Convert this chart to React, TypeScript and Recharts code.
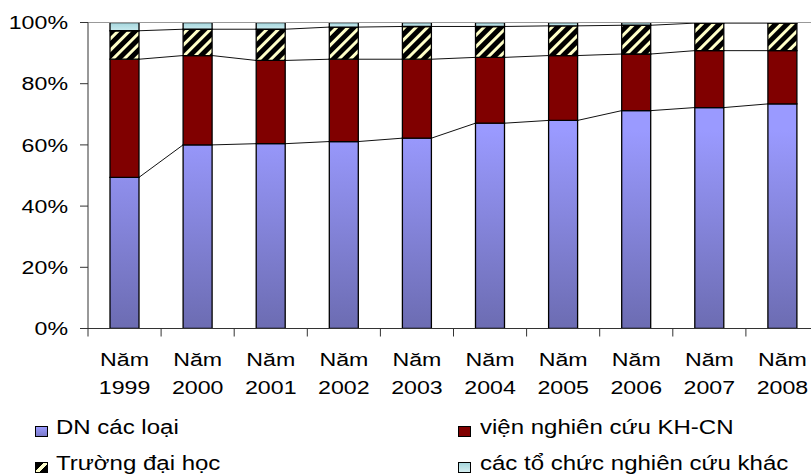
import React from 'react';
import { BarChart, Bar, XAxis, YAxis, ReferenceLine, Rectangle } from 'recharts';

// Cơ cấu nguồn đề tài theo năm (% tổng số)
const years = ['1999', '2000', '2001', '2002', '2003', '2004', '2005', '2006', '2007', '2008'];
const dnShare = [49.4, 60.0, 60.4, 61.1, 62.2, 67.1, 68.0, 71.2, 72.2, 73.4];
const instituteShare = [38.6, 29.2, 27.2, 26.9, 25.8, 21.5, 21.2, 18.5, 18.6, 17.4];
const universityShare = [9.3, 8.6, 10.2, 10.5, 10.7, 10.1, 9.7, 9.4, 9.0, 9.0];
const otherShare = [2.7, 2.2, 2.2, 1.5, 1.3, 1.3, 1.1, 0.9, 0.2, 0.2];
const yTicks = [0, 20, 40, 60, 80, 100];

const seriesNames = {
  dn: 'DN các loại',
  vien: 'viện nghiên cứu KH-CN',
  truong: 'Trường đại học',
  khac: 'các tổ chức nghiên cứu khác',
};

const rows = years.map((year, i) => ({
  year,
  dn: dnShare[i],
  vien: instituteShare[i],
  truong: universityShare[i],
  khac: otherShare[i],
}));

// layout
const CHART_W = 831;
const CHART_H = 476;
const MARGIN = { top: 22.5, right: 12, bottom: 87.5, left: 0 };
const Y_AXIS_W = 88;
const X_AXIS_H = 60;
const PLOT_W = CHART_W - MARGIN.left - MARGIN.right - Y_AXIS_W;
const PLOT_BOTTOM = CHART_H - MARGIN.bottom - X_AXIS_H;
const STEP = PLOT_W / years.length;
const STRETCH = 1.22;
const FONT = "'Liberation Sans', Arial, Helvetica, sans-serif";
const AXIS_COLOR = '#333';

const cumulative = (r: any) => [r.dn, r.dn + r.vien, r.dn + r.vien + r.truong, 100];

// DN bar + the Excel-style series lines joining each segment top to the next bar
const DnShape = (props: any) => {
  const { x, y, width, height, index, payload } = props;
  const unit = height / payload.dn;
  const base = y + height;
  const next = rows[index + 1];
  const cur = cumulative(payload);
  const nxt = next ? cumulative(next) : null;
  return (
    <g>
      <Rectangle x={x} y={y} width={width} height={height} fill="url(#dnGrad)" stroke="#000" strokeWidth={1.3} />
      {nxt &&
        cur.map((v, k) => (
          <line
            key={k}
            x1={x + width}
            y1={base - v * unit}
            x2={x + STEP}
            y2={base - nxt[k] * unit}
            stroke="#111"
            strokeWidth={1}
          />
        ))}
    </g>
  );
};

const YTick = ({ x, y, payload }: any) => (
  <text
    transform={`translate(${x},${y}) scale(${STRETCH},1)`}
    textAnchor="end"
    dy="0.35em"
    fontSize={19}
    fontFamily={FONT}
    fill="#000"
  >
    {`${payload.value}%`}
  </text>
);

const XTick = ({ x, payload }: any) => (
  <g>
    <line x1={x - STEP / 2} y1={PLOT_BOTTOM} x2={x - STEP / 2} y2={PLOT_BOTTOM + 8} stroke={AXIS_COLOR} strokeWidth={1} />
    <text transform={`translate(${x},${PLOT_BOTTOM + 37.5}) scale(${STRETCH},1)`} textAnchor="middle" fontSize={19} fontFamily={FONT} fill="#000">
      Năm
    </text>
    <text transform={`translate(${x},${PLOT_BOTTOM + 65.5}) scale(${STRETCH},1)`} textAnchor="middle" fontSize={19} fontFamily={FONT} fill="#000">
      {payload.value}
    </text>
  </g>
);

const legendItems = [
  { key: 'dn', left: 35, top: 416, swatch: 'linear-gradient(#9a9aff, #7a7ac8)' },
  { key: 'vien', left: 458, top: 416, swatch: '#800000' },
  { key: 'truong', left: 35, top: 452, swatch: 'linear-gradient(135deg, #000 35%, #ffffcc 40%, #ffffcc 60%, #000 65%)' },
  { key: 'khac', left: 458, top: 452, swatch: 'linear-gradient(#a6d6dd, #d4eef0)' },
];

const App = () => {
  return (
    <div style={{ position: 'absolute', left: 0, top: 0, width: 811, height: 476, overflow: 'hidden', background: '#fff' }}>
      <BarChart width={CHART_W} height={CHART_H} data={rows} margin={MARGIN} barSize={29}>
        <defs>
          <linearGradient id="dnGrad" gradientUnits="userSpaceOnUse" x1="0" y1="130" x2="0" y2={PLOT_BOTTOM}>
            <stop offset="0%" stopColor="#9a9aff" />
            <stop offset="100%" stopColor="#6c6cb2" />
          </linearGradient>
          <pattern id="hatch" width="8" height="8" patternUnits="userSpaceOnUse" patternTransform="rotate(45)">
            <rect width="8" height="8" fill="#000" />
            <rect x="0" width="3" height="8" fill="#ffffc8" />
          </pattern>
          <linearGradient id="otherGrad" x1="0" y1="0" x2="0" y2="1">
            <stop offset="0%" stopColor="#a4d5dc" />
            <stop offset="100%" stopColor="#c8eaee" />
          </linearGradient>
        </defs>
        <ReferenceLine y={100} stroke="#999" strokeWidth={1} />
        <XAxis
          dataKey="year"
          height={X_AXIS_H}
          interval={0}
          tickLine={false}
          axisLine={{ stroke: AXIS_COLOR, strokeWidth: 1 }}
          tick={<XTick />}
        />
        <YAxis
          width={Y_AXIS_W}
          domain={[0, 100]}
          ticks={yTicks}
          tickSize={8}
          tickMargin={12}
          tickLine={{ stroke: AXIS_COLOR }}
          axisLine={{ stroke: AXIS_COLOR, strokeWidth: 1 }}
          tick={<YTick />}
          allowDataOverflow
        />
        <Bar dataKey="dn" name={seriesNames.dn} stackId="a" shape={<DnShape />} isAnimationActive={false} />
        <Bar dataKey="vien" name={seriesNames.vien} stackId="a" fill="#800000" stroke="#000" strokeWidth={1.3} isAnimationActive={false} />
        <Bar dataKey="truong" name={seriesNames.truong} stackId="a" fill="url(#hatch)" stroke="#000" strokeWidth={1.3} isAnimationActive={false} />
        <Bar dataKey="khac" name={seriesNames.khac} stackId="a" fill="url(#otherGrad)" stroke="#000" strokeWidth={1.3} isAnimationActive={false} />
      </BarChart>

      {legendItems.map((item) => (
        <div key={item.key} style={{ position: 'absolute', left: item.left, top: item.top, height: 22, fontFamily: FONT, fontSize: 20, lineHeight: '22px', whiteSpace: 'nowrap' }}>
          <span
            style={{
              position: 'absolute',
              left: 0,
              top: 10,
              width: 11,
              height: 9,
              border: '1px solid #000',
              background: item.swatch,
            }}
          />
          <span style={{ position: 'absolute', left: item.key === 'dn' || item.key === 'truong' ? 21 : 22, top: 0, transform: `scaleX(${1.2})`, transformOrigin: 'left center' }}>
            {seriesNames[item.key as keyof typeof seriesNames]}
          </span>
        </div>
      ))}
    </div>
  );
};

export default App;
